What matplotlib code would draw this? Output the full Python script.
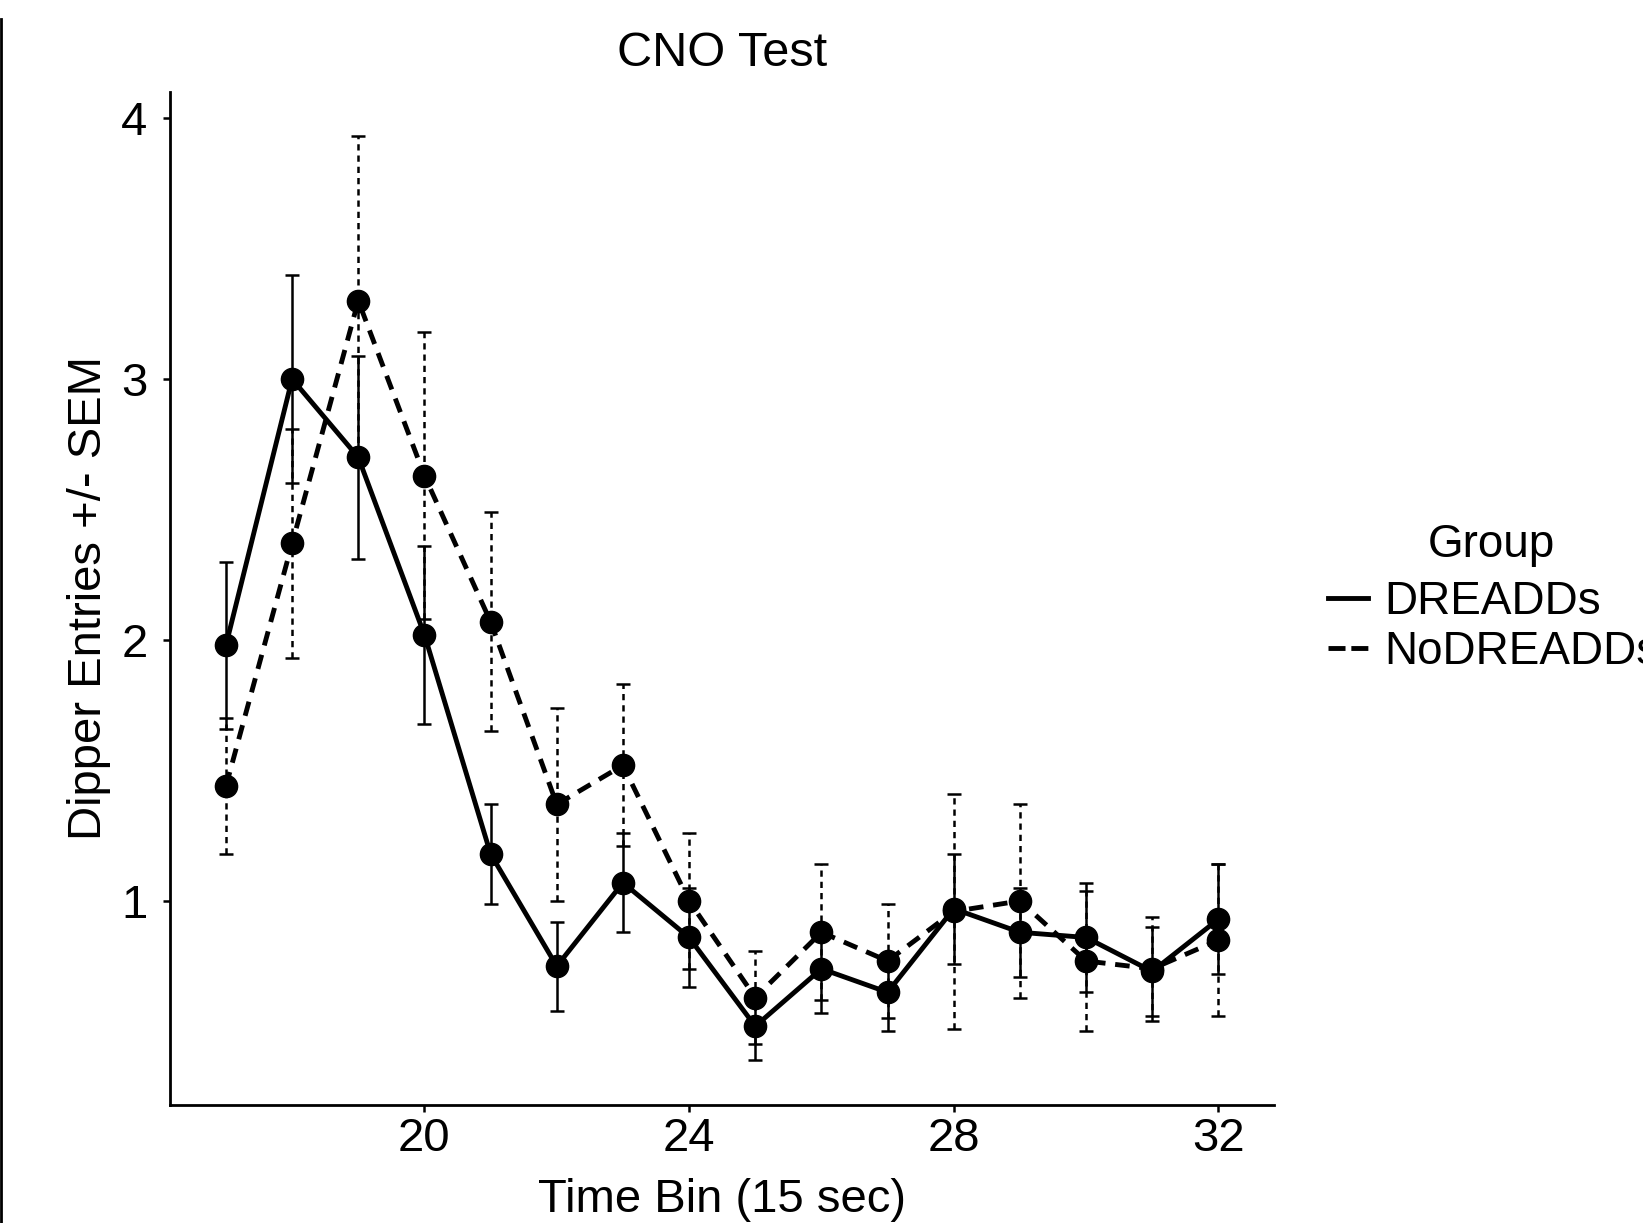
import numpy as np
import matplotlib
matplotlib.use('Agg')
import matplotlib.pyplot as plt
from matplotlib.lines import Line2D

# data

time_bins = [17, 18, 19, 20, 21, 22, 23, 24, 25, 26, 27, 28, 29, 30, 31, 32]
dreadds_mean = [1.98, 3.00, 2.70, 2.02, 1.18, 0.75, 1.07, 0.86, 0.52, 0.74, 0.65, 0.97, 0.88, 0.86, 0.73, 0.93]
dreadds_sem = [0.32, 0.40, 0.39, 0.34, 0.19, 0.17, 0.19, 0.19, 0.13, 0.17, 0.15, 0.21, 0.17, 0.21, 0.17, 0.21]
nodreadds_mean = [1.44, 2.37, 3.30, 2.63, 2.07, 1.37, 1.52, 1.00, 0.63, 0.88, 0.77, 0.96, 1.00, 0.77, 0.74, 0.85]
nodreadds_sem = [0.26, 0.44, 0.63, 0.55, 0.42, 0.37, 0.31, 0.26, 0.18, 0.26, 0.22, 0.45, 0.37, 0.27, 0.20, 0.29]

x_ticks = [20, 24, 28, 32]
y_ticks = [1, 2, 3, 4]

plt.rcParams['font.family'] = ['Liberation Sans', 'DejaVu Sans']

W, H = 1643, 1223
fig = plt.figure(figsize=(W / 100, H / 100), dpi=100)
ax = fig.add_axes([169.7 / W, 1 - 1104.5 / H, (1274 - 169.7) / W, (1104.5 - 92) / H])

# error bars first, then lines and points on top

eb = ax.errorbar(time_bins, dreadds_mean, yerr=dreadds_sem, fmt='none',
                 ecolor='black', elinewidth=1.8, capsize=5, capthick=1.8, zorder=2)
eb2 = ax.errorbar(time_bins, nodreadds_mean, yerr=nodreadds_sem, fmt='none',
                  ecolor='black', elinewidth=1.8, capsize=5, capthick=1.8, zorder=2)
eb2[2][0].set_linestyle((0, (2.5, 2)))

ax.plot(time_bins, dreadds_mean, color='black', lw=3.5, marker='o', ms=16, zorder=3)
ax.plot(time_bins, nodreadds_mean, color='black', lw=3.5, ls=(0, (3, 2)),
        marker='o', ms=16, zorder=3)

ax.set_xlim(16.15, 32.84)
ax.set_ylim(0.22, 4.1)
ax.set_xticks(x_ticks)
ax.set_yticks(y_ticks)

# ggplot classic look: only left and bottom axis lines

for side in ['top', 'right']:
    ax.spines[side].set_visible(False)
for side in ['left', 'bottom']:
    ax.spines[side].set_linewidth(2)
ax.tick_params(axis='both', labelsize=34, length=5, width=1.8, colors='black')
ax.tick_params(axis='x', pad=4)
ax.tick_params(axis='y', pad=11)

ax.set_title('CNO Test', fontsize=35, pad=19)
ax.set_xlabel('Time Bin (15 sec)', fontsize=34, labelpad=12)
ax.set_ylabel('Dipper Entries +/- SEM', fontsize=34, labelpad=7)

# legend outside on the right, title placed by hand

fig.text(1491 / W, 1 - 545 / H, 'Group', fontsize=33, ha='center', va='center')
handles = [Line2D([], [], color='black', lw=3.5),
           Line2D([], [], color='black', lw=3.5, ls=(0, (3.5, 1.2)))]
leg = ax.legend(handles, ['DREADDs', 'NoDREADDs'], frameon=False,
                fontsize=33, loc='center left',
                bbox_to_anchor=(1328 / W, 1 - 627 / H), bbox_transform=fig.transFigure,
                borderpad=0, borderaxespad=0, handlelength=0.87, handletextpad=0.36,
                labelspacing=0.14)

# thin black edge line at the far left of the picture
fig.add_artist(Line2D([1 / W, 1 / W], [0, 1 - 19 / H], transform=fig.transFigure,
                      color='black', lw=2))

fig.savefig('out.png', dpi=100)
